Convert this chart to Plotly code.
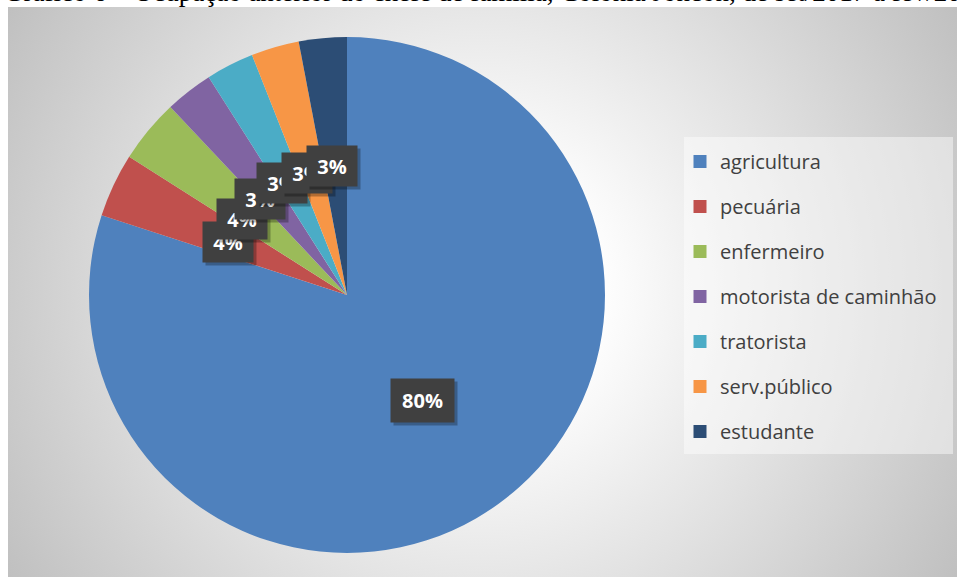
import base64
import plotly.graph_objects as go

W, H = 957, 577

# dados
ocupacoes = ["agricultura", "pecuária", "enfermeiro", "motorista de caminhão",
             "tratorista", "serv.público", "estudante"]
percentuais = [80, 4, 4, 3, 3, 3, 3]
cores = ["#4F81BD", "#C0504D", "#9BBB59", "#8064A2", "#4BACC6", "#F79646", "#2C4D75"]

titulo = "Gráfico 6 – Ocupação anterior do chefe de família, Colônia Joncon, de set/2017 a fev/2018"

# posição (px) dos rótulos de dados, na ordem das fatias
pos_rotulos = [(422, 400), (228, 242), (242, 219), (260, 199), (282, 183), (307, 173), (332, 166)]


def px_x(v):
    return v / W


def px_y(v):
    return 1 - v / H


# fundo com gradiente radial (svg embutido)
svg = f"""<svg xmlns='http://www.w3.org/2000/svg' width='949' height='570' viewBox='0 0 949 570'>
<defs><radialGradient id='g' gradientUnits='userSpaceOnUse' cx='474' cy='285' r='560'>
<stop offset='0.2' stop-color='#ffffff'/><stop offset='1' stop-color='#bfbfbf'/>
</radialGradient></defs>
<rect x='0' y='0' width='949' height='570' fill='url(#g)'/>
</svg>"""
fundo = "data:image/svg+xml;base64," + base64.b64encode(svg.encode()).decode()

fig = go.Figure()

fig.add_trace(go.Pie(
    labels=ocupacoes,
    values=percentuais,
    marker=dict(colors=cores),
    sort=False,
    direction="clockwise",
    rotation=0,
    textinfo="none",
    showlegend=False,
    domain=dict(x=[px_x(89), px_x(605)], y=[px_y(553), px_y(37)]),
))

# entradas da legenda
for nome, cor in zip(ocupacoes, cores):
    fig.add_trace(go.Scatter(
        x=[None], y=[None], mode="markers", name=nome, legendgroup=nome,
        marker=dict(symbol="square", size=13, color=cor),
    ))

annotations = []
for (x, y), v in zip(pos_rotulos, percentuais):
    big = v >= 10
    w, h = (55, 35) if big else (42, 32)
    common = dict(xref="paper", yref="paper", x=px_x(x), y=px_y(y), showarrow=False,
                  xanchor="center", yanchor="middle",
                  width=w, height=h, borderpad=4, align="center", valign="middle")
    annotations.append(dict(text=" ", bgcolor="rgba(0,0,0,0.28)", xshift=3, yshift=-3, **common))
    annotations.append(dict(text=f"<b>{v}%</b>", bgcolor="#404040",
                            font=dict(family="Open Sans", size=20, color="white"), **common))

annotations.append(dict(
    text=titulo, xref="paper", yref="paper", x=px_x(2), y=px_y(9.5),
    xanchor="left", yanchor="bottom", showarrow=False,
    font=dict(family="Liberation Serif", size=27, color="black"),
))

fig.update_layout(
    width=W, height=H,
    margin=dict(l=0, r=0, t=0, b=0),
    paper_bgcolor="white",
    plot_bgcolor="rgba(0,0,0,0)",
    xaxis=dict(visible=False),
    yaxis=dict(visible=False),
    images=[dict(source=fundo, xref="paper", yref="paper", x=px_x(8), y=px_y(7),
                 sizex=(W - 8) / W, sizey=(H - 7) / H, xanchor="left", yanchor="top",
                 sizing="stretch", layer="below")],
    shapes=[dict(type="rect", xref="paper", yref="paper", x0=px_x(684), x1=px_x(953),
                 y0=px_y(454), y1=px_y(137), fillcolor="rgba(255,255,255,0.45)",
                 line=dict(width=0), layer="below")],
    legend=dict(x=px_x(680), y=px_y(142), xanchor="left", yanchor="top",
                bgcolor="rgba(0,0,0,0)", tracegroupgap=16,
                font=dict(family="Open Sans", size=20, color="#404040")),
    annotations=annotations,
)

fig.write_html("out.html", config={"displayModeBar": False},
               post_script="document.body.style.margin='0';")
